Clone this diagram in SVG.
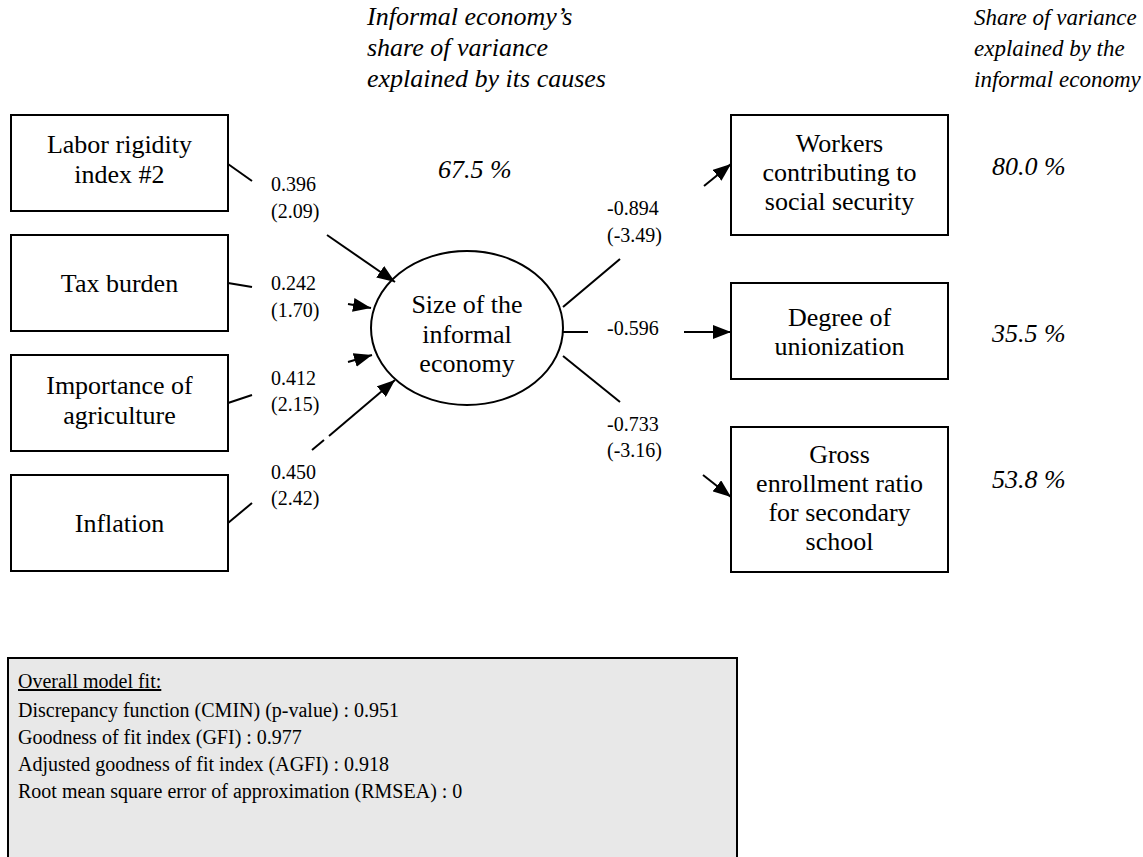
<svg xmlns="http://www.w3.org/2000/svg" width="1143" height="857" viewBox="0 0 1143 857">
<style>
.box{fill:#fff;stroke:#000;stroke-width:2}
.t{font-family:"Liberation Serif","Times New Roman",serif;font-size:26px;fill:#000;text-anchor:middle}
.it{font-family:"Liberation Serif","Times New Roman",serif;font-size:26px;font-style:italic;fill:#000}
.itr{font-family:"Liberation Serif","Times New Roman",serif;font-size:23px;font-style:italic;fill:#000}
.lb{font-family:"Liberation Serif","Times New Roman",serif;font-size:20px;fill:#000}
.fit{font-family:"Liberation Serif","Times New Roman",serif;font-size:20px;fill:#000}
.c{stroke:#000;stroke-width:2;fill:none}
</style>
<defs>
<marker id="ah" markerUnits="userSpaceOnUse" markerWidth="20" markerHeight="14" refX="18" refY="7" orient="auto">
<path d="M0,0 L18,7 L0,14 Z" fill="#000"/>
</marker>
</defs>
<rect width="1143" height="857" fill="#fff"/>

<g id="headings">
<text class="it" x="367" y="25">Informal economy’s</text>
<text class="it" x="367" y="56">share of variance</text>
<text class="it" x="367" y="87">explained by its causes</text>
<text class="itr" x="974" y="25">Share of variance</text>
<text class="itr" x="974" y="56">explained by the</text>
<text class="itr" x="974" y="87">informal economy</text>
<text class="it" x="438" y="178">67.5 %</text>
<text class="it" x="992" y="175">80.0 %</text>
<text class="it" x="992" y="342">35.5 %</text>
<text class="it" x="992" y="488">53.8 %</text>
</g>

<g id="n_labor">
<rect class="box" x="11" y="115" width="217" height="96"/>
<text class="t" x="119.5" y="153">Labor rigidity</text>
<text class="t" x="119.5" y="183">index #2</text>
</g>
<g id="n_tax">
<rect class="box" x="11" y="235" width="217" height="96"/>
<text class="t" x="119.5" y="292">Tax burden</text>
</g>
<g id="n_agri">
<rect class="box" x="11" y="355" width="217" height="96"/>
<text class="t" x="119.5" y="394">Importance of</text>
<text class="t" x="119.5" y="424">agriculture</text>
</g>
<g id="n_infl">
<rect class="box" x="11" y="475" width="217" height="96"/>
<text class="t" x="119.5" y="532">Inflation</text>
</g>

<g id="n_size">
<ellipse class="box" cx="467" cy="328" rx="96" ry="77"/>
<text class="t" x="467" y="313">Size of the</text>
<text class="t" x="467" y="343">informal</text>
<text class="t" x="467" y="372">economy</text>
</g>

<g id="n_workers">
<rect class="box" x="731" y="115" width="217" height="120"/>
<text class="t" x="839.5" y="152">Workers</text>
<text class="t" x="839.5" y="181">contributing to</text>
<text class="t" x="839.5" y="210">social security</text>
</g>
<g id="n_union">
<rect class="box" x="731" y="283" width="217" height="96"/>
<text class="t" x="839.5" y="326">Degree of</text>
<text class="t" x="839.5" y="355">unionization</text>
</g>
<g id="n_school">
<rect class="box" x="731" y="427" width="217" height="145"/>
<text class="t" x="839.5" y="463">Gross</text>
<text class="t" x="839.5" y="492">enrollment ratio</text>
<text class="t" x="839.5" y="521">for secondary</text>
<text class="t" x="839.5" y="550">school</text>
</g>

<g id="connectors">
<line class="c" x1="228" y1="164" x2="252" y2="181"/>
<line class="c" x1="327" y1="235" x2="395" y2="282" marker-end="url(#ah)"/>
<line class="c" x1="228" y1="283" x2="252" y2="287"/>
<line class="c" x1="348" y1="304" x2="371" y2="308" marker-end="url(#ah)"/>
<line class="c" x1="228" y1="403" x2="252" y2="395"/>
<line class="c" x1="348" y1="362" x2="372" y2="355" marker-end="url(#ah)"/>
<line class="c" x1="228" y1="523" x2="252" y2="503"/>
<line class="c" x1="312" y1="450" x2="324" y2="440"/>
<line class="c" x1="329" y1="436" x2="395" y2="380" marker-end="url(#ah)"/>
<line class="c" x1="563" y1="307" x2="620" y2="259"/>
<line class="c" x1="704" y1="186" x2="731" y2="164" marker-end="url(#ah)"/>
<line class="c" x1="563" y1="332" x2="588" y2="332"/>
<line class="c" x1="684" y1="332" x2="731" y2="332" marker-end="url(#ah)"/>
<line class="c" x1="563" y1="356" x2="620" y2="402"/>
<line class="c" x1="703" y1="475" x2="731" y2="497" marker-end="url(#ah)"/>
</g>

<g id="labels">
<text class="lb" x="271" y="191">0.396</text>
<text class="lb" x="271" y="218">(2.09)</text>
<text class="lb" x="271" y="290">0.242</text>
<text class="lb" x="271" y="317">(1.70)</text>
<text class="lb" x="271" y="385">0.412</text>
<text class="lb" x="271" y="411">(2.15)</text>
<text class="lb" x="271" y="479">0.450</text>
<text class="lb" x="271" y="505">(2.42)</text>
<text class="lb" x="607" y="215">-0.894</text>
<text class="lb" x="607" y="242">(-3.49)</text>
<text class="lb" x="607" y="335">-0.596</text>
<text class="lb" x="607" y="431">-0.733</text>
<text class="lb" x="607" y="457">(-3.16)</text>
</g>

<g id="fitbox">
<rect x="8" y="658" width="729" height="220" fill="#e8e8e8" stroke="#000" stroke-width="2"/>
<text class="fit" x="18" y="688" text-decoration="underline">Overall model fit:</text>
<text class="fit" x="18" y="717">Discrepancy function (CMIN) (p-value) : 0.951</text>
<text class="fit" x="18" y="744">Goodness of fit index (GFI) : 0.977</text>
<text class="fit" x="18" y="771">Adjusted goodness of fit index (AGFI) : 0.918</text>
<text class="fit" x="18" y="798">Root mean square error of approximation (RMSEA) : 0</text>
</g>
</svg>
